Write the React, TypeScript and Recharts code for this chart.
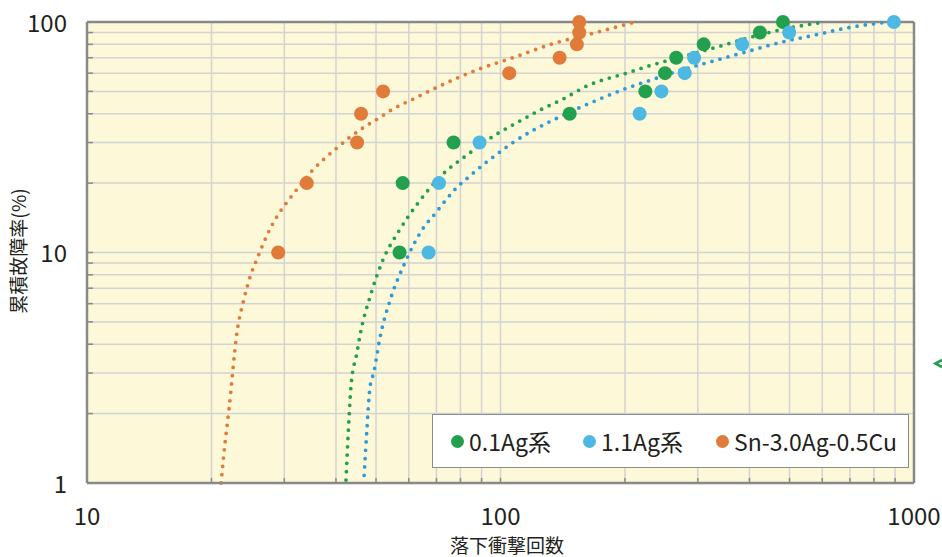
import React from 'react';
import {
  ComposedChart,
  XAxis,
  YAxis,
  CartesianGrid,
  Scatter,
  Line,
  ReferenceLine,
  Legend,
  Customized,
} from 'recharts';

// ---------- axis ticks ----------
const xTicks = [10, 20, 30, 40, 50, 60, 70, 80, 90, 100, 200, 300, 400, 500, 600, 700, 800, 900, 1000];
const yTicks = [1, 2, 3, 4, 5, 6, 7, 8, 9, 10, 20, 30, 40, 50, 60, 70, 80, 90, 100];
const xLabels = [10, 100, 1000];
const yLabels = [1, 10, 100];

// ---------- measured data ----------
const failureRates = [10, 20, 30, 40, 50, 60, 70, 80, 90, 100];
const greenDrops = [57, 58, 77, 147, 224, 250, 266, 310, 424, 482];
const blueDrops = [67, 71, 89, 217, 245, 279, 294, 384, 499, 894];
const orangeDrops = [29, 34, 45, 46, 52, 105, 139, 153, 155, 155];

// ---------- fitted curves ----------
const greenFitDrops = [42.3, 43.0, 43.5, 45.0, 45.7, 48.6, 51.7, 56.8, 63.2, 71.8, 83.0, 97.0, 110.2, 124.6, 141.6, 161.9, 202.3, 232.5, 279.4, 333.9, 441, 530, 609];
const greenFitRates = [1.03, 1.88, 2.64, 3.7, 4.34, 6.61, 9.09, 12.4, 16.4, 21.5, 26.5, 32.3, 36.8, 41.5, 46.3, 52.8, 60.1, 65.1, 71.2, 77.9, 89.6, 96.1, 100];

const blueFitDrops = [46.8, 47.5, 48.3, 49.4, 51.1, 54.4, 58.4, 62.1, 65.3, 69.4, 73.8, 78.5, 84.4, 90.7, 97.5, 106, 119.2, 135.5, 154.8, 176, 202.3, 231.2, 264.2, 333.9, 399, 479.6, 576.2, 688.7, 827.6, 874.9];
const blueFitRates = [1.08, 1.68, 2.56, 3.03, 4.26, 6.41, 8.83, 11.1, 12.9, 14.7, 16.9, 19.2, 21.5, 24.0, 26.5, 29.6, 33.7, 37.9, 42.4, 46.8, 51.7, 56.0, 60.7, 68.4, 74.8, 81.9, 87.8, 94.2, 99.0, 100];

const orangeFitDrops = [21.1, 21.45, 22.05, 23.06, 23.97, 24.93, 25.77, 26.79, 27.86, 29.29, 30.97, 33.1, 35.0, 37.4, 40.2, 43.3, 46.8, 50.8, 55.0, 60.1, 77.6, 88.7, 106.6, 133.2, 168.3, 211.5];
const orangeFitRates = [1.0, 1.36, 2.09, 4.52, 6.29, 8.07, 9.37, 11.1, 12.9, 15.0, 17.2, 20.0, 22.6, 25.4, 28.4, 31.7, 35.0, 38.3, 42.0, 45.4, 56.6, 62.5, 69.8, 80.3, 89.6, 100];

const seriesNames = ['0.1Ag系', '1.1Ag系', 'Sn-3.0Ag-0.5Cu'];
const seriesColors = ['#23A04D', '#4DB8E1', '#E07B39'];
const lineColors = ['#23A04D', '#2E9BD8', '#E07B39'];

const toPoints = (xs: number[], ys: number[]) => xs.map((x, i) => ({ x, y: ys[i] }));

const greenPoints = toPoints(greenDrops, failureRates);
const bluePoints = toPoints(blueDrops, failureRates);
const orangePoints = toPoints(orangeDrops, failureRates);
const greenFit = toPoints(greenFitDrops, greenFitRates);
const blueFit = toPoints(blueFitDrops, blueFitRates);
const orangeFit = toPoints(orangeFitDrops, orangeFitRates);

const FONT = '"Noto Sans CJK JP", "Noto Sans", sans-serif';
const TEXT = '#231F20';
const AXIS = '#898989';

const XTick = (props: any) => {
  const { x, y, payload } = props;
  const v = payload.value;
  return (
    <g>
      <line x1={x} x2={x} y1={y} y2={y - 5} stroke={AXIS} strokeWidth={1.5} />
      {xLabels.includes(v) && (
        <text x={x} y={y + 31} textAnchor="middle" dominantBaseline="central" fontSize={24} fill={TEXT} fontFamily={FONT}>
          {v}
        </text>
      )}
    </g>
  );
};

const YTick = (props: any) => {
  const { x, y, payload } = props;
  const v = payload.value;
  return (
    <g>
      <line x1={x} x2={x + 6} y1={y} y2={y} stroke={AXIS} strokeWidth={1.5} />
      {yLabels.includes(v) && (
        <text x={x - 20} y={y - 1} textAnchor="end" dominantBaseline="central" fontSize={24} fill={TEXT} fontFamily={FONT}>
          {v}
        </text>
      )}
    </g>
  );
};

const dotShape = (color: string) => (p: any) => <circle cx={p.cx} cy={p.cy} r={7} fill={color} />;

const itemLefts = [18, 150, 283];

const LegendBox = () => (
  <div
    style={{
      position: 'relative',
      width: 477,
      height: 54,
      boxSizing: 'border-box',
      background: '#ffffff',
      border: '1.5px solid #8c8c8c',
      fontFamily: FONT,
      fontSize: 23,
      color: TEXT,
      whiteSpace: 'nowrap',
    }}
  >
    {seriesNames.map((n, i) => (
      <div
        key={n}
        style={{
          position: 'absolute',
          left: itemLefts[i],
          top: 0,
          height: 52,
          display: 'flex',
          alignItems: 'center',
          whiteSpace: 'nowrap',
        }}
      >
        <span style={{ display: 'inline-block', flexShrink: 0, width: 13, height: 13, borderRadius: '50%', background: seriesColors[i], marginRight: 5 }} />
        <span style={{ whiteSpace: 'nowrap' }}>{n}</span>
      </div>
    ))}
  </div>
);

const Extras = () => (
  <g>
    <text x={507} y={544} textAnchor="middle" dominantBaseline="central" fontSize={19} fill={TEXT} fontFamily={FONT}>
      落下衝撃回数
    </text>
    <text
      x={17}
      y={251}
      textAnchor="middle"
      dominantBaseline="central"
      fontSize={19}
      fill={TEXT}
      fontFamily={FONT}
      transform="rotate(-90 17 251)"
    >
      累積故障率(%)
    </text>
    <path d="M942 360 L935.5 363.5 L942 367" fill="none" stroke="#23A04D" strokeWidth={2.6} />
  </g>
);

export default function App() {
  return (
    <div style={{ position: 'absolute', left: 0, top: 0, width: 942, height: 557, background: '#fff' }}>
      <ComposedChart width={942} height={557} margin={{ top: 22, right: 28, bottom: 0, left: 0 }}>
        <CartesianGrid stroke="#D3D3D3" strokeWidth={1.5} fill="#FCF8D8" fillOpacity={1} />
        <XAxis
          dataKey="x"
          type="number"
          scale="log"
          domain={[10, 1000]}
          ticks={xTicks}
          interval={0}
          height={74}
          tickSize={0}
          tickMargin={0}
          tickLine={false}
          tick={<XTick />}
          axisLine={{ stroke: AXIS, strokeWidth: 2.5 }}
        />
        <YAxis
          dataKey="y"
          type="number"
          scale="log"
          domain={[1, 100]}
          ticks={yTicks}
          interval={0}
          width={87}
          tickSize={0}
          tickMargin={0}
          tickLine={false}
          tick={<YTick />}
          axisLine={{ stroke: AXIS, strokeWidth: 2.5 }}
        />
        <ReferenceLine y={100} stroke={AXIS} strokeWidth={2.5} />
        <ReferenceLine x={1000} stroke={AXIS} strokeWidth={2.5} />
        <Line data={orangeFit} dataKey="y" type="monotone" stroke={lineColors[2]} strokeWidth={3.8} strokeDasharray="0 8.3" strokeLinecap="round" dot={false} activeDot={false} isAnimationActive={false} legendType="none" />
        <Line data={greenFit} dataKey="y" type="monotone" stroke={lineColors[0]} strokeWidth={3.8} strokeDasharray="0 8.3" strokeLinecap="round" dot={false} activeDot={false} isAnimationActive={false} legendType="none" />
        <Line data={blueFit} dataKey="y" type="monotone" stroke={lineColors[1]} strokeWidth={3.8} strokeDasharray="0 8.3" strokeLinecap="round" dot={false} activeDot={false} isAnimationActive={false} legendType="none" />
        <Scatter data={greenPoints} dataKey="y" fill={seriesColors[0]} shape={dotShape(seriesColors[0])} isAnimationActive={false} name={seriesNames[0]} />
        <Scatter data={bluePoints} dataKey="y" fill={seriesColors[1]} shape={dotShape(seriesColors[1])} isAnimationActive={false} name={seriesNames[1]} />
        <Scatter data={orangePoints} dataKey="y" fill={seriesColors[2]} shape={dotShape(seriesColors[2])} isAnimationActive={false} name={seriesNames[2]} />
        <Legend
          layout="horizontal"
          verticalAlign="middle"
          align="center"
          content={<LegendBox />}
          wrapperStyle={{ position: 'absolute', left: 432, top: 414, width: 477, height: 54 }}
        />
        <Customized component={<Extras />} />
      </ComposedChart>
    </div>
  );
}
